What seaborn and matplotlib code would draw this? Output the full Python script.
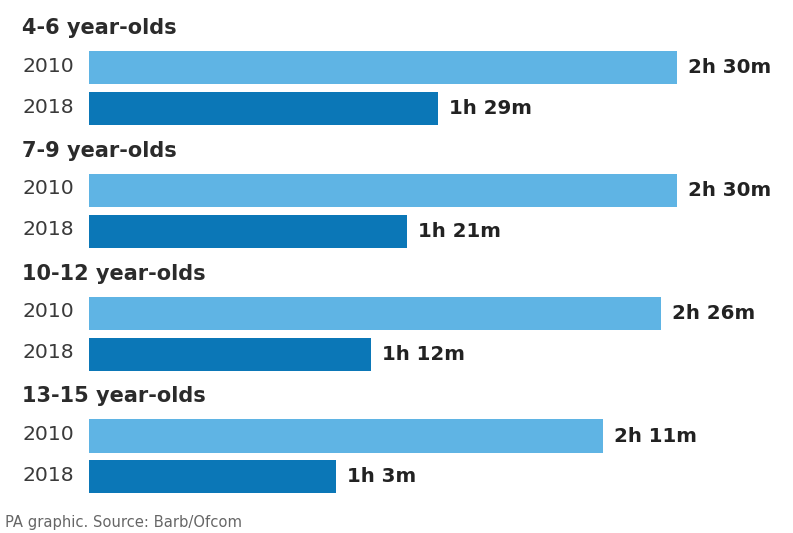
import matplotlib
matplotlib.use("Agg")
import matplotlib.pyplot as plt
import matplotlib.transforms as mtransforms
import seaborn as sns
import pandas as pd

# Average daily TV viewing time, in minutes
age_groups = ["4-6 year-olds", "7-9 year-olds", "10-12 year-olds", "13-15 year-olds"]
years = ["2010", "2018"]
minutes_2010 = [150, 150, 146, 131]
minutes_2018 = [89, 81, 72, 63]

colors = {"2010": "#5fb4e4", "2018": "#0b77b7"}


def fmt(m):
    return f"{m // 60}h {m % 60}m"


rows = []
order = []
for g, a, b in zip(age_groups, minutes_2010, minutes_2018):
    order.append(g)  # empty slot used for the group heading
    for yr, val in zip(years, (a, b)):
        key = f"{g}|{yr}"
        order.append(key)
        rows.append({"key": key, "group": g, "year": yr, "minutes": val})
df = pd.DataFrame(rows)

sns.set_theme(style="white")
plt.rcParams["font.family"] = ["DejaVu Sans"]

W, H = 793, 533
fig = plt.figure(figsize=(W / 100, H / 100), dpi=100)
fig.patch.set_facecolor("white")

slot = 40.9
top_center = 27
ax_top = top_center - slot / 2
ax_bot = top_center + slot * 11.5
left_px, xmax = 89, 175
px_per_min = 3.92
ax = fig.add_axes([left_px / W, (H - ax_bot) / H, xmax * px_per_min / W, (ax_bot - ax_top) / H])

sns.barplot(data=df, y="key", x="minutes", hue="year", order=order,
            palette=colors, dodge=False, width=0.81, orient="h",
            legend=False, ax=ax, saturation=1, linewidth=0)

ax.set_xlim(0, xmax)
ax.set_ylim(11.5, -0.5)
ax.set_xlabel("")
ax.set_ylabel("")
ax.set_xticks([])
ax.set_yticks([])
for s in ax.spines.values():
    s.set_visible(False)
ax.set_facecolor("none")

trans = mtransforms.blended_transform_factory(fig.transFigure, ax.transData)
label_x = 22 / W
for i, key in enumerate(order):
    if "|" not in key:
        ax.text(label_x, i + 0.03, key, transform=trans, ha="left", va="center",
                fontsize=15, fontweight="bold", color="#2b2b2b")
    else:
        g, yr = key.split("|")
        ax.text(label_x, i - 0.04, yr, transform=trans, ha="left", va="center",
                fontsize=14.7, color="#3a3a3a")
        val = int(df.loc[df["key"] == key, "minutes"].iloc[0])
        ax.text(val + 11 / px_per_min, i, fmt(val), ha="left", va="center",
                fontsize=14.3, fontweight="bold", color="#222222")

fig.text(5 / W, 1 - 523 / H, "PA graphic. Source: Barb/Ofcom", ha="left", va="center",
         fontsize=10.6, color="#666666")

fig.savefig("out.png", dpi=100, facecolor="white")
